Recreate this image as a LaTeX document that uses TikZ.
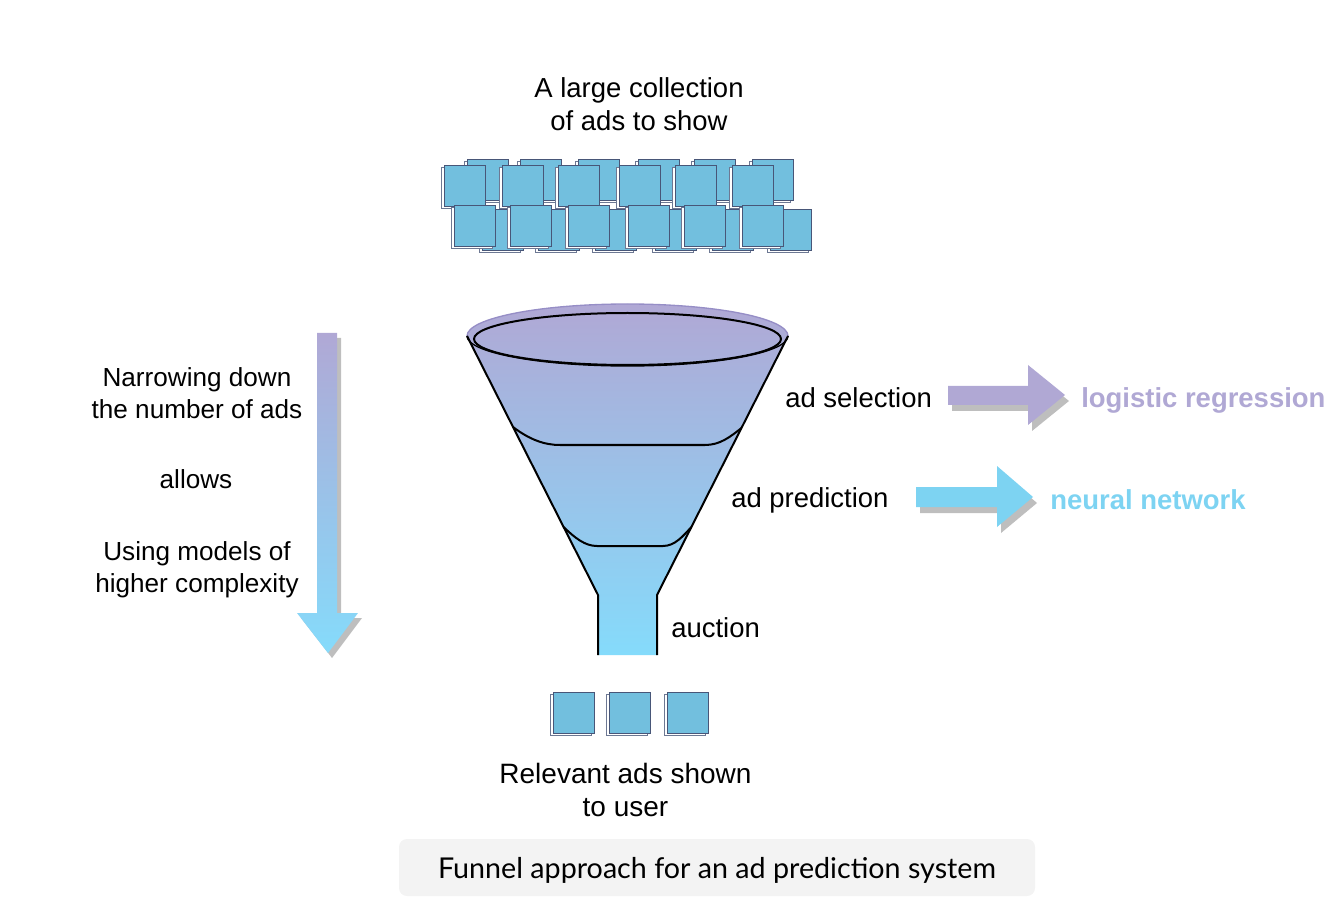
\documentclass[tikz,border=0pt]{standalone}
\usepackage{fontspec}
\setmainfont{Liberation Sans}
\newfontfamily\capfont{Lato}
\definecolor{funtop}{RGB}{176,168,213}
\definecolor{funbot}{RGB}{133,219,251}
\definecolor{lrpurple}{RGB}{176,168,212}
\definecolor{nnblue}{RGB}{125,211,242}
\definecolor{sqfill}{RGB}{114,191,222}
\definecolor{sqedge}{RGB}{72,86,120}
\definecolor{shadowgray}{RGB}{190,190,190}
\definecolor{capbg}{RGB}{243,243,243}
\definecolor{rimpurple}{RGB}{150,142,198}
% one ad card: a white card peeking out behind a blue card
\newcommand\adcard[2]{%
  \draw[cardback] (#1-2.5,#2+2.5) rectangle ++(41,41);
  \draw[cardfront] (#1,#2) rectangle ++(41,41);
}
\begin{document}
\begin{tikzpicture}[x=0.75pt,y=-0.75pt,
  txt/.style={font=\fontsize{20.6}{24.75}\selectfont, align=center, inner sep=0pt},
  sidetxt/.style={font=\fontsize{19.6}{24}\selectfont, align=center, inner sep=0pt},
  boldtxt/.style={font=\fontsize{20.6}{24.75}\selectfont\bfseries, inner sep=0pt, anchor=west},
  cardback/.style={draw=sqedge!80, fill=white, line width=0.5pt},
  cardfront/.style={draw=sqedge, fill=sqfill, line width=0.5pt},
  funline/.style={draw=black, line width=1.5pt, line join=round},
  arrowshadow/.style={fill=shadowgray},
]
\useasboundingbox (0,0) rectangle (1334,912);

% ---- title above the cards
\node[txt] (title) at (639,104.5) {A large collection\\of ads to show};

% ---- the large collection of ad cards
\foreach \x in {467,520,578,638,694,752} {\adcard{\x}{159}}
\foreach \x in {444,502,558,619,675,732} {\adcard{\x}{165}}
\foreach \x in {482,538,595,655,712,770} {\adcard{\x}{209}}
\foreach \x in {454,510,568,628,684,742} {\adcard{\x}{205}}

% ---- funnel body (y axis points down, so angles 180..360 run over the top)
\shade[top color=funtop, bottom color=funbot]
  (467,336) arc[start angle=180, end angle=360, x radius=160.5, y radius=32]
  -- (657,595) -- (657,655) -- (598,655) -- (598,595) -- cycle;
\draw[rimpurple, line width=1pt] (467,336) arc[start angle=180, end angle=360, x radius=160.5, y radius=32];
\draw[black, line width=1pt] (467,336) arc[start angle=180, end angle=0, x radius=160.5, y radius=30];
\draw[black, line width=1.5pt] (627.5,339) ellipse[x radius=153.5, y radius=26];
\draw[funline] (467,336) -- (598,595) -- (598,655);
\draw[funline] (788,336) -- (657,595) -- (657,655);
% stage boundaries
\draw[funline] (513,427) .. controls (530,440) and (545,445) .. (560,445)
  -- (705,445) .. controls (720,445) and (730,437) .. (741.5,428);
\draw[funline] (563.6,527) .. controls (575,538) and (585,546) .. (597,546)
  -- (663,546) .. controls (675,546) and (683,536) .. (691.4,527);

% ---- stage labels
\node[txt, anchor=west] (sel) at (785,398) {ad selection};
\node[txt, anchor=west] (pred) at (731,500) {ad prediction};
\node[txt, anchor=west] (auc) at (671,628) {auction};

% ---- model arrows
\coordinate (lrtail) at (948,395);
\coordinate (nntail) at (916,497);
\fill[arrowshadow] (952,392) -- (1032,392) -- (1032,371) -- (1069,401)
  -- (1032,431) -- (1032,411) -- (952,411) -- cycle;
\fill[lrpurple] (948,386) -- (1028,386) -- (1028,365) -- (1065,395)
  -- (1028,425) -- (1028,405) -- (948,405) -- cycle;
\fill[arrowshadow] (920,493) -- (1001,493) -- (1001,472) -- (1037,503)
  -- (1001,533) -- (1001,513) -- (920,513) -- cycle;
\fill[nnblue] (916,487) -- (997,487) -- (997,466) -- (1033,497)
  -- (997,527) -- (997,507) -- (916,507) -- cycle;
\node[boldtxt, text=lrpurple] (lr) at (1081,400) {logistic regression};
\node[boldtxt, text=nnblue] (nn) at (1050,500) {neural network};

% ---- narrowing arrow on the left
\fill[arrowshadow] (321,338) -- (341,338) -- (341,618) -- (362,618)
  -- (332,658) -- (301,618) -- (321,618) -- cycle;
\shade[top color=funtop, bottom color=funbot]
  (317,333) -- (337,333) -- (337,613) -- (358,613)
  -- (328,653) -- (297,613) -- (317,613) -- cycle;
\node[sidetxt] (narrow) at (197,393) {Narrowing down\\the number of ads};
\node[sidetxt] (allows) at (196,479) {allows};
\node[sidetxt] (complex) at (197,569.5) {Using models of\\higher complexity};

% ---- relevant ads
\adcard{553}{692}
\adcard{609}{692}
\adcard{667}{692}
\node[txt, font=\fontsize{21}{24.75}\selectfont] (relevant) at (625.5,789.5) {Relevant ads shown\\to user};

% ---- caption
\node[fill=capbg, rounded corners=6pt, minimum width=636*0.75pt, minimum height=57*0.75pt,
  inner sep=0pt] (caption) at (717,867.5) {};
\node[inner sep=0pt, font=\capfont\fontsize{21.5}{25}\selectfont] (captext) at (717,870.5)
  {Funnel approach for an ad prediction system};
\end{tikzpicture}
\end{document}
